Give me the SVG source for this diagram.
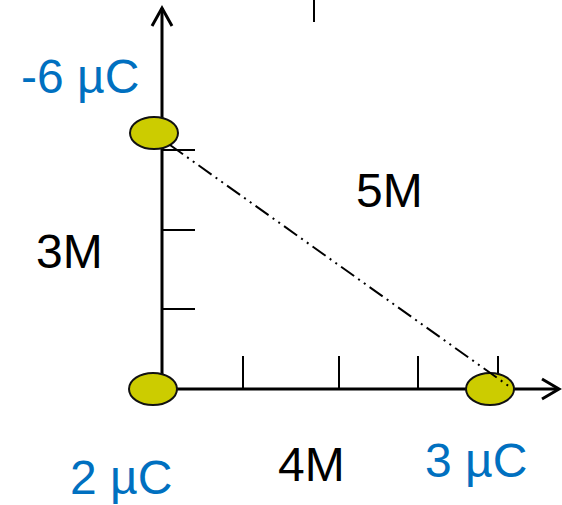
<svg xmlns="http://www.w3.org/2000/svg" width="562" height="505" viewBox="0 0 562 505">
<style>
.ax{stroke:#000;stroke-width:3;fill:none;stroke-linecap:butt}
.tk{stroke:#000;stroke-width:2;fill:none}
.q{fill:#CCCC00;stroke:#111;stroke-width:2}
.lb{font-family:"Liberation Sans",Arial,sans-serif;font-size:48px}
.blue{fill:#0070C0}
.blk{fill:#000}
</style>
<rect width="562" height="505" fill="#fff"/>
<g id="axes">
<line class="ax" x1="162" y1="389" x2="162" y2="8"/>
<polyline class="ax" points="152,26 162,8 172,26"/>
<line class="ax" x1="162" y1="389" x2="558" y2="389"/>
<polyline class="ax" points="542,379 559,389 542,399"/>
</g>
<g id="ticks">
<line class="tk" x1="163" y1="150" x2="195" y2="150"/>
<line class="tk" x1="163" y1="230" x2="195" y2="230"/>
<line class="tk" x1="163" y1="309" x2="195" y2="309"/>
<line class="tk" x1="243" y1="356" x2="243" y2="389"/>
<line class="tk" x1="339" y1="356" x2="339" y2="389"/>
<line class="tk" x1="418" y1="356" x2="418" y2="389"/>
<line class="tk" x1="498" y1="356" x2="498" y2="389"/>
<line class="tk" x1="314" y1="0" x2="314" y2="22"/>
</g>
<g id="q1"><ellipse class="q" cx="154" cy="133" rx="24" ry="16"/></g>
<g id="q2"><ellipse class="q" cx="153" cy="389" rx="24" ry="16"/></g>
<g id="q3"><ellipse class="q" cx="490" cy="389" rx="24" ry="16"/></g>
<g id="connectors">
<line x1="170" y1="145" x2="510" y2="387" stroke="#000" stroke-width="2" stroke-dasharray="16 5 2 5 2 5"/>
</g>
<g id="labels">
<text class="lb blue" x="21" y="93">-6 µC</text>
<text class="lb blue" x="70" y="494">2 µC</text>
<text class="lb blk" x="278" y="481">4M</text>
<text class="lb blue" x="425" y="477">3 µC</text>
<text class="lb blk" x="36" y="268">3M</text>
<text class="lb blk" x="356" y="207">5M</text>
</g>
</svg>
